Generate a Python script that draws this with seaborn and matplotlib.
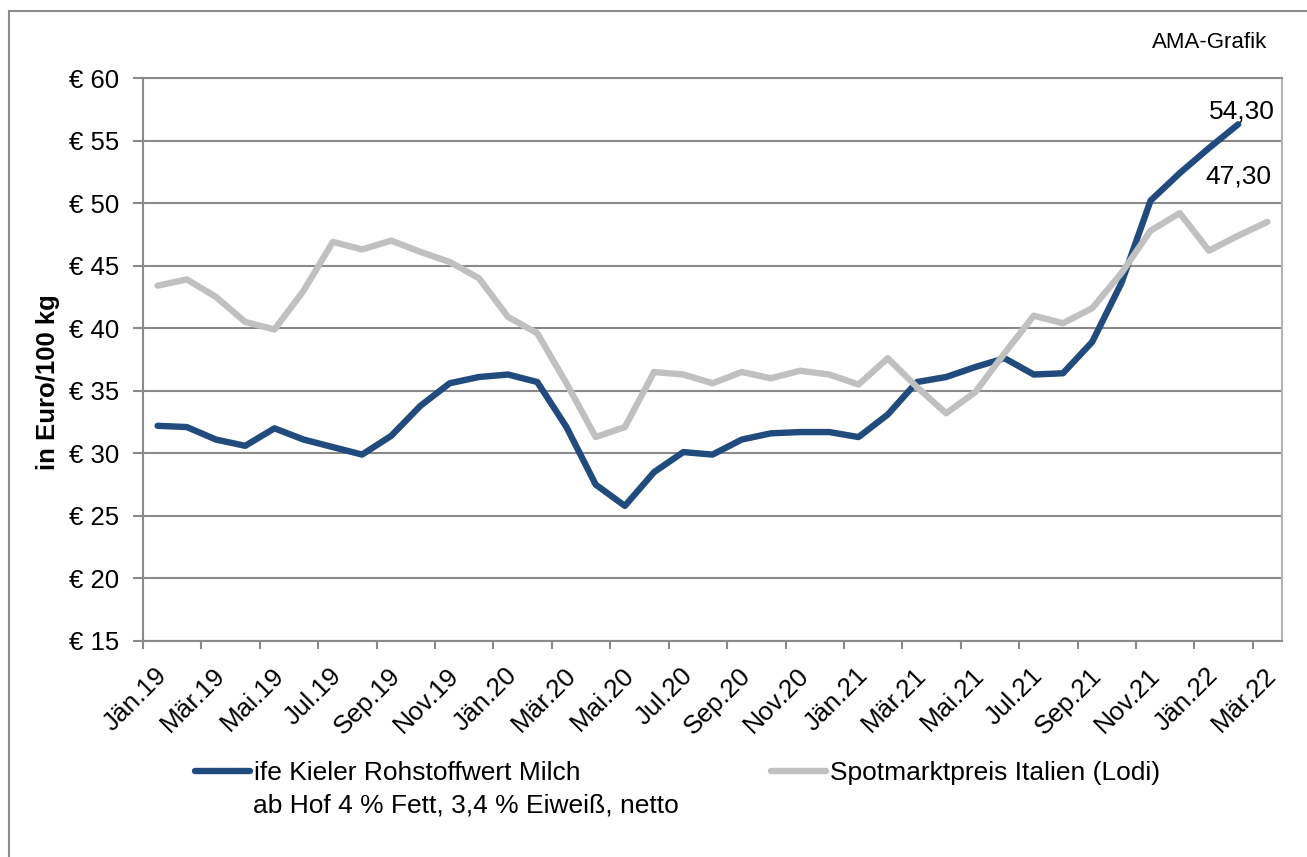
import matplotlib
matplotlib.use("Agg")
import matplotlib.pyplot as plt
import matplotlib.transforms as mtransforms
import seaborn as sns
import pandas as pd
import numpy as np
from matplotlib.patches import Rectangle

# ---------------- data ----------------
months = ["Jän.19", "Feb.19", "Mär.19", "Apr.19", "Mai.19", "Jun.19", "Jul.19", "Aug.19",
          "Sep.19", "Okt.19", "Nov.19", "Dez.19",
          "Jän.20", "Feb.20", "Mär.20", "Apr.20", "Mai.20", "Jun.20", "Jul.20", "Aug.20",
          "Sep.20", "Okt.20", "Nov.20", "Dez.20",
          "Jän.21", "Feb.21", "Mär.21", "Apr.21", "Mai.21", "Jun.21", "Jul.21", "Aug.21",
          "Sep.21", "Okt.21", "Nov.21", "Dez.21",
          "Jän.22", "Feb.22", "Mär.22"]

kiel = [32.2, 32.1, 31.1, 30.6, 32.0, 31.1, 30.5, 29.9, 31.4, 33.8, 35.6, 36.1,
        36.3, 35.7, 32.1, 27.5, 25.8, 28.5, 30.1, 29.9, 31.1, 31.6, 31.7, 31.7,
        31.3, 33.1, 35.7, 36.1, 36.9, 37.6, 36.3, 36.4, 38.9, 43.6, 50.2, 52.4,
        54.4, 56.3, None]

lodi = [43.4, 43.9, 42.5, 40.5, 39.9, 43.0, 46.9, 46.3, 47.0, 46.1, 45.3, 44.0,
        40.9, 39.6, 35.6, 31.3, 32.1, 36.5, 36.3, 35.6, 36.5, 36.0, 36.6, 36.3,
        35.5, 37.6, 35.3, 33.2, 34.9, 38.0, 41.0, 40.4, 41.6, 44.4, 47.8, 49.2,
        46.2, 47.4, 48.5]

series_names = ["ife Kieler Rohstoffwert Milch", "Spotmarktpreis Italien (Lodi)"]
legend_second_line = "ab Hof 4 % Fett, 3,4 % Eiweiß, netto"
end_labels = ["54,30", "47,30"]
y_ticks = [15, 20, 25, 30, 35, 40, 45, 50, 55, 60]
y_tick_labels = ["€ 15", "€ 20", "€ 25", "€ 30", "€ 35", "€ 40", "€ 45", "€ 50", "€ 55", "€ 60"]
y_label = "in Euro/100 kg"
source_text = "AMA-Grafik"

# ---------------- style ----------------
sns.set_theme(style="white")
plt.rcParams["font.family"] = ["Liberation Sans", "DejaVu Sans"]
plt.rcParams["text.color"] = "black"
plt.rcParams["axes.labelcolor"] = "black"

dark = "#214A7D"
grey = "#C0C0C0"
gridc = "#8A8A8A"

df = pd.DataFrame({
    "pos": list(range(len(months))) * 2,
    "value": kiel + lodi,
    "series": [series_names[0]] * len(months) + [series_names[1]] * len(months),
}).dropna()

fig = plt.figure(figsize=(13.07, 8.57), dpi=100)
W, H = 1307, 857
ax = fig.add_axes([143 / W, 1 - 641 / H, 1139 / W, 563 / H])

sns.lineplot(data=df, x="pos", y="value", hue="series", hue_order=series_names,
             palette=[dark, grey], linewidth=4.6, ax=ax, legend=False,
             solid_capstyle="round", solid_joinstyle="round")

ax.set_xlim(-0.5, len(months) - 0.5)
ax.set_ylim(15, 60)

# grid
ax.set_yticks(y_ticks)
ax.set_yticklabels(y_tick_labels)
ax.yaxis.grid(True, color=gridc, linewidth=1.5)
ax.xaxis.grid(False)
ax.set_axisbelow(True)

# x ticks: labels at every second category, tick marks at category boundaries
label_pos = list(range(0, len(months), 2))
ax.set_xticks(label_pos)
ax.set_xticklabels([months[i] for i in label_pos], rotation=45, ha="right",
                   rotation_mode="anchor")
ax.set_xticks([p - 0.5 for p in label_pos], minor=True)
ax.tick_params(axis="x", which="major", length=0, pad=16, labelsize=18.8, labelcolor="black")
ax.tick_params(axis="x", which="minor", length=6, width=1.5, color=gridc, bottom=True)
ax.tick_params(axis="y", which="major", length=7, width=1.5, color=gridc, left=True,
               pad=10, labelsize=18.5, labelcolor="black")
shift = mtransforms.ScaledTranslation(-3 / 100, 0, fig.dpi_scale_trans)
for lab in ax.get_xticklabels():
    lab.set_va("top")
    lab.set_transform(lab.get_transform() + shift)

ax.set_xlabel("")
ax.set_ylabel("")

for s in ["left", "bottom", "top"]:
    ax.spines[s].set_color(gridc)
    ax.spines[s].set_linewidth(1.5)
ax.spines["right"].set_color("#B5B5B5")
ax.spines["right"].set_linewidth(1.5)

# end labels
ax.annotate(end_labels[0], xy=(37, kiel[37]), xytext=(26.6, 9.4), textcoords="offset points",
            ha="right", va="center", fontsize=19, color="black")
ax.annotate(end_labels[1], xy=(38, lodi[38]), xytext=(2.9, 33), textcoords="offset points",
            ha="right", va="center", fontsize=19, color="black")

# y label and source
fig.text(48 / W, 1 - 382 / H, y_label, rotation=90, ha="center", va="center",
         fontsize=18.5, fontweight="bold", color="black")
fig.text(1267 / W, 1 - 43 / H, source_text, ha="right", va="center", fontsize=16,
         color="black")

# legend
lines = ax.get_lines()
leg = ax.legend(handles=lines[:2], labels=series_names, ncol=2, frameon=False,
                loc="upper left", bbox_to_anchor=(195 / W, 1 - 761 / H),
                bbox_transform=fig.transFigure, borderaxespad=0, borderpad=0,
                handlelength=2.1, handletextpad=0.15, columnspacing=7.2,
                fontsize=19, labelcolor="black")
fig.text(253 / W, 1 - 806 / H, legend_second_line, ha="left", va="center", fontsize=19,
         color="black")

# outer frame
fig.patches.append(Rectangle((9 / W, -0.05), 1.2, 1 - 11 / H + 0.05,
                             transform=fig.transFigure, fill=False,
                             edgecolor="#8C8C8C", linewidth=1.5))

fig.savefig("out.png", dpi=100)
